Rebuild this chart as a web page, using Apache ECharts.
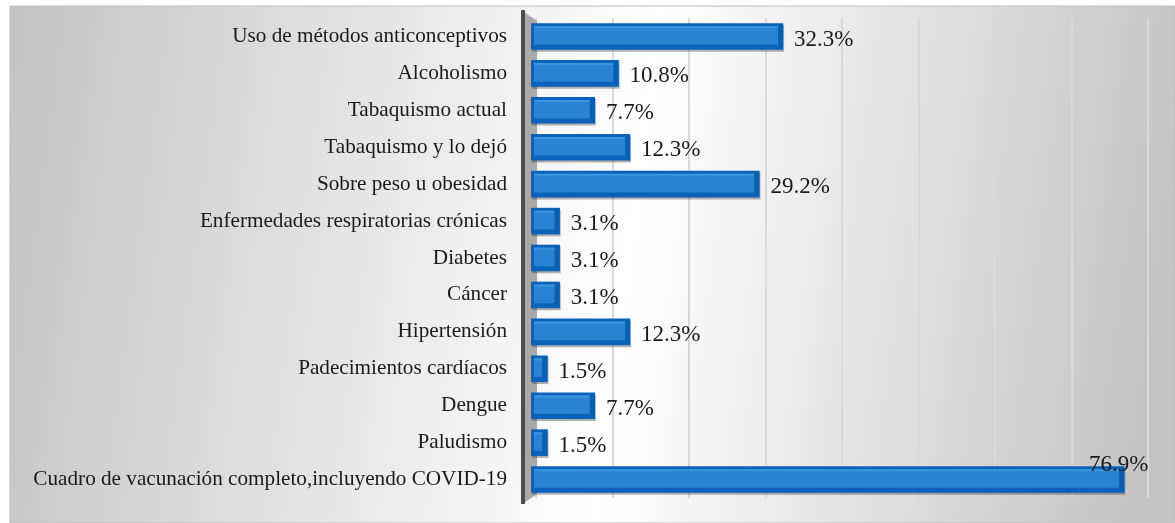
<!DOCTYPE html>
<html>
<head>
<meta charset="utf-8">
<script src="https://cdn.jsdelivr.net/npm/echarts@6/dist/echarts.min.js"></script>
<style>
  html, body { margin: 0; padding: 0; background: #fff; }
  #chart { width: 1175px; height: 523px; }
</style>
</head>
<body>
<div id="chart"></div>
<script>
const categories = [
  'Uso de métodos anticonceptivos',
  'Alcoholismo',
  'Tabaquismo actual',
  'Tabaquismo y lo dejó',
  'Sobre peso u obesidad',
  'Enfermedades respiratorias crónicas',
  'Diabetes',
  'Cáncer',
  'Hipertensión',
  'Padecimientos cardíacos',
  'Dengue',
  'Paludismo',
  'Cuadro de vacunación completo,incluyendo COVID-19'
]
const percentages = [32.3, 10.8, 7.7, 12.3, 29.2, 3.1, 3.1, 3.1, 12.3, 1.5, 7.7, 1.5, 76.9]

const chart = echarts.init(document.getElementById('chart'))

// barra con efecto 3D tipo Excel
const renderBar = (params, api) => {
  const v = api.value(0)
  const idx = api.value(1)
  const start = api.coord([0, idx])
  const end = api.coord([v, idx])
  const h = api.size([0, 1])[1] * 0.72
  const x0 = start[0] - 5
  const x1 = Math.max(end[0], x0 + 14)
  const w = x1 - x0
  const y = start[1] - h / 2

  const label = v.toFixed(1) + '%'
  const inside = v > 70
  return {
    type: 'group',
    children: [
      { type: 'rect', shape: { x: x0 + 1, y: y + 2, width: w, height: h }, style: { fill: 'rgba(40,40,40,0.35)' } },
      { type: 'rect', shape: { x: x0, y: y, width: w, height: h }, style: { fill: '#0a62ba' } },
      {
        type: 'rect',
        shape: { x: x0 + 3, y: y + 3, width: Math.max(w - 8, 2), height: h - 8 },
        style: { fill: '#2a86d4', opacity: 0.95 }
      },
      {
        type: 'rect',
        shape: { x: x0 + 3, y: y + 3, width: Math.max(w - 8, 2), height: 2 },
        style: { fill: '#3b95e0' }
      },
      {
        type: 'polygon',
        shape: { points: [[x1 - 5, y + 3], [x1, y], [x1, y + h], [x1 - 5, y + h - 5]] },
        style: { fill: '#0d5eab' }
      },
      {
        type: 'text',
        style: {
          text: label,
          x: inside ? x1 + 24 : x1 + 11,
          y: inside ? start[1] - 15 : start[1] + 3,
          align: inside ? 'right' : 'left',
          verticalAlign: 'middle',
          fill: '#1a1a1a',
          font: '23px "Liberation Serif"'
        }
      }
    ]
  }
}

const options = {
  animation: false,
  graphic: [
    {
      type: 'rect',
      z: -10,
      shape: { x: 10, y: 6, width: 1165, height: 517 },
      style: {
        fill: new echarts.graphic.LinearGradient(0, 0, 1, 0.3, [
          { offset: 0, color: '#c3c3c3' },
          { offset: 0.55, color: '#ffffff' },
          { offset: 1, color: '#c4c4c4' }
        ]),
        stroke: '#bdbdbd',
        lineWidth: 1
      }
    },
    {
      type: 'polygon',
      z: 5,
      shape: { points: [[524, 12], [537, 21], [537, 494], [524, 503]] },
      style: { fill: '#a9a9a9' }
    },
    {
      type: 'rect',
      z: 5,
      shape: { x: 521, y: 10, width: 4, height: 494 },
      style: { fill: '#4d4d4d' }
    }
  ],
  grid: {
    left: 536,
    right: 27,
    top: 18,
    height: 480
  },
  xAxis: {
    type: 'value',
    min: 0,
    max: 80,
    interval: 10,
    axisLabel: { show: false },
    axisLine: { show: false },
    axisTick: { show: false },
    splitLine: { lineStyle: { color: '#d9d9d9', width: 2 } }
  },
  yAxis: {
    type: 'category',
    inverse: true,
    data: categories,
    axisLine: { show: false },
    axisTick: { show: false },
    axisLabel: {
      margin: 29,
      color: '#1a1a1a',
      fontFamily: 'Liberation Serif',
      fontSize: 21.2,
      padding: [0, 0, 6, 0]
    }
  },
  series: [
    {
      type: 'custom',
      z: 10,
      renderItem: renderBar,
      encode: { x: 0, y: 1 },
      data: percentages.map((v, i) => [v, i])
    }
  ]
}

chart.setOption(options)
</script>
</body>
</html>
